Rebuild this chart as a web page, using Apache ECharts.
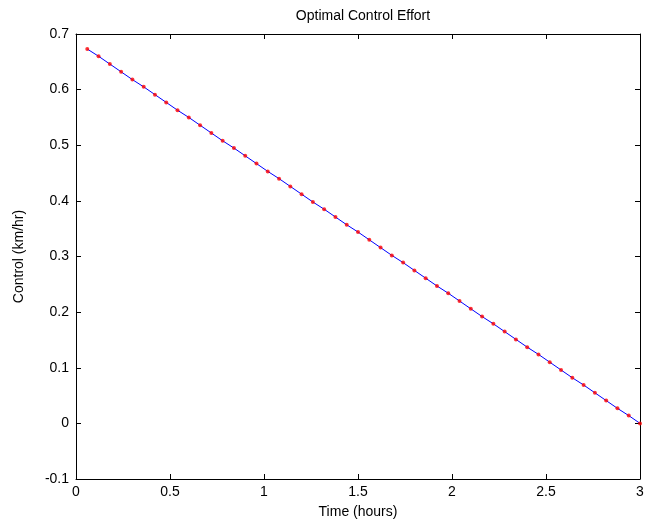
<!DOCTYPE html>
<html>
<head>
<meta charset="utf-8">
<script src="https://cdn.jsdelivr.net/npm/echarts@6/dist/echarts.min.js"></script>
<style>
html,body{margin:0;padding:0;background:#fff;}
#c{width:647px;height:529px;}
</style>
</head>
<body>
<div id="c"></div>
<script>
const timeHours = [0.06,0.12,0.18,0.24,0.30,0.36,0.42,0.48,0.54,0.60,0.66,0.72,0.78,0.84,0.90,0.96,1.02,1.08,1.14,1.20,1.26,1.32,1.38,1.44,1.50,1.56,1.62,1.68,1.74,1.80,1.86,1.92,1.98,2.04,2.10,2.16,2.22,2.28,2.34,2.40,2.46,2.52,2.58,2.64,2.70,2.76,2.82,2.88,2.94,3.00];
const control = [0.673,0.660,0.646,0.632,0.618,0.605,0.591,0.577,0.563,0.550,0.536,0.522,0.508,0.495,0.481,0.467,0.453,0.440,0.426,0.412,0.398,0.385,0.371,0.357,0.344,0.330,0.316,0.302,0.289,0.275,0.261,0.247,0.234,0.220,0.206,0.192,0.179,0.165,0.151,0.137,0.124,0.110,0.096,0.082,0.069,0.055,0.041,0.027,0.014,0.000];
const xTicks = [0,0.5,1,1.5,2,2.5,3];
const yTicks = [-0.1,0,0.1,0.2,0.3,0.4,0.5,0.6,0.7];

const pts = timeHours.map((t,i)=>[t,control[i]]);
const font = 'Liberation Sans, Arial, Helvetica, sans-serif';
const axisCommon = {
  axisLine:{show:true,onZero:false,lineStyle:{color:'#000',width:1}},
  axisTick:{show:true,inside:true,length:5,lineStyle:{color:'#000',width:1}},
  splitLine:{show:false}
};
const fmt = v => String(+v.toFixed(2));
const chart = echarts.init(document.getElementById('c'),null,{renderer:'canvas'});
chart.setOption({
  animation:false,
  backgroundColor:'#fff',
  title:{text:'Optimal Control Effort',left:358,textAlign:'center',top:4,
    textStyle:{fontFamily:font,fontSize:14,fontWeight:'normal',color:'#000'}},
  grid:{left:76,right:7,top:34,bottom:50,containLabel:false},
  xAxis:[
    Object.assign({type:'value',position:'bottom',min:xTicks[0],max:xTicks[xTicks.length-1],interval:0.5,
      name:'Time (hours)',nameLocation:'middle',nameGap:26,
      nameTextStyle:{fontFamily:font,fontSize:14,color:'#000'},
      axisLabel:{fontFamily:font,fontSize:14,color:'#000',margin:6,formatter:fmt}},axisCommon),
    Object.assign({type:'value',position:'top',min:xTicks[0],max:xTicks[xTicks.length-1],interval:0.5,axisLabel:{show:false}},axisCommon)
  ],
  yAxis:[
    Object.assign({type:'value',position:'left',min:yTicks[0],max:yTicks[yTicks.length-1],interval:0.1,
      name:'Control (km/hr)',nameLocation:'middle',nameGap:50,nameRotate:90,
      nameTextStyle:{fontFamily:font,fontSize:14,color:'#000'},
      axisLabel:{fontFamily:font,fontSize:14,color:'#000',margin:7,formatter:fmt}},axisCommon),
    Object.assign({type:'value',position:'right',min:yTicks[0],max:yTicks[yTicks.length-1],interval:0.1,axisLabel:{show:false}},axisCommon)
  ],
  series:[
    {type:'line',data:pts,showSymbol:false,symbol:'none',lineStyle:{color:'#0000ff',width:1},z:2},
    {type:'scatter',data:pts,symbol:'circle',symbolSize:4,itemStyle:{color:'#ff0000'},z:3}
  ]
});
</script>
</body>
</html>
